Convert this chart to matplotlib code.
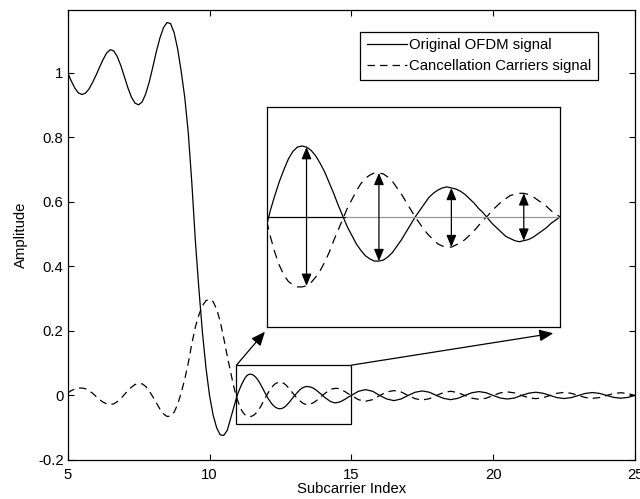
import numpy as np
import matplotlib
matplotlib.use("Agg")
from matplotlib import pyplot as plt
from matplotlib.patches import Rectangle

plt.rcParams['font.family'] = ['Liberation Sans', 'DejaVu Sans']
plt.rcParams['axes.unicode_minus'] = False

# subcarrier index grid: 0.125 steps, finer inside the zoomed window, coarse in the tail
x_a = np.arange(5, 10.75, 0.125)
x_b = np.arange(10.75, 15, 0.0625)
x_c = np.arange(15, 25.01, 0.25)

# values
ofdm_a = [
    1.000, 0.975, 0.953, 0.938, 0.933, 0.937, 0.950, 0.970,    # 5.0 - 5.875
    0.993, 1.018, 1.042, 1.062, 1.072, 1.068, 1.050, 1.022,    # 6.0 - 6.875
    0.988, 0.953, 0.924, 0.906, 0.901, 0.910, 0.935, 0.972,    # 7.0 - 7.875
    1.018, 1.066, 1.108, 1.140, 1.156, 1.153, 1.125, 1.075,    # 8.0 - 8.875
    1.005, 0.925, 0.815, 0.660, 0.480, 0.330, 0.195, 0.085,    # 9.0 - 9.875
    0.000, -0.060, -0.100, -0.122, -0.124, -0.108,             # 10.0 - 10.625
]
ofdm_b = [
    -0.070, -0.050, -0.030, -0.011, 0.006, 0.020, 0.033, 0.044,   # 10.75 - 11.1875
    0.054, 0.061, 0.065, 0.066, 0.065, 0.062, 0.057, 0.050,      # 11.25 - 11.6875
    0.042, 0.032, 0.022, 0.011, 0.001, -0.009, -0.017, -0.025,   # 11.75 - 12.1875
    -0.031, -0.036, -0.039, -0.041, -0.041, -0.040, -0.037, -0.033,  # 12.25
    -0.027, -0.021, -0.014, -0.007, 0.000, 0.006, 0.012, 0.018,  # 12.75
    0.022, 0.025, 0.027, 0.028, 0.027, 0.026, 0.024, 0.021,      # 13.25
    0.017, 0.013, 0.008, 0.004, -0.001, -0.006, -0.010, -0.014,  # 13.75
    -0.018, -0.020, -0.022, -0.023, -0.022, -0.021, -0.019, -0.016,  # 14.25
    -0.013, -0.010, -0.006, -0.003,                              # 14.75 - 14.9375
]
ofdm_c = [
    0.000, 0.013, 0.018, 0.013, 0.000, -0.011, -0.016, -0.011,  # 15.0 - 16.75
    0.000, 0.010, 0.014, 0.010, 0.000, -0.009, -0.013, -0.009,  # 17.0 - 18.75
    0.000, 0.0085, 0.012, 0.0085, 0.000, -0.008, -0.011, -0.008,  # 19.0 - 20.75
    0.000, 0.007, 0.010, 0.007, 0.000, -0.0067, -0.0095, -0.0067,  # 21.0 - 22.75
    0.000, 0.0064, 0.009, 0.0064, 0.000, -0.006, -0.0085, -0.006,  # 23.0 - 24.75
    0.000,                                                      # 25.0
]

cancel_a = [
    0.008, 0.015, 0.020, 0.023, 0.023, 0.021, 0.015, 0.007,    # 5.0 - 5.875
    -0.003, -0.013, -0.021, -0.026, -0.028, -0.026, -0.019, -0.009,  # 6.0
    0.003, 0.015, 0.026, 0.034, 0.037, 0.036, 0.028, 0.014,    # 7.0
    -0.004, -0.023, -0.042, -0.057, -0.065, -0.064, -0.052, -0.028,  # 8.0
    0.008, 0.050, 0.100, 0.160, 0.212, 0.250, 0.278, 0.294,    # 9.0
    0.298, 0.291, 0.268, 0.230, 0.178, 0.122,                  # 10.0 - 10.625
]
cancel_b = [
    0.070, 0.044, 0.020, 0.000, -0.018, -0.033, -0.045, -0.054,  # 10.75
    -0.060, -0.063, -0.065, -0.065, -0.064, -0.061, -0.056, -0.050,  # 11.25
    -0.042, -0.033, -0.022, -0.012, -0.002, 0.008, 0.016, 0.024,  # 11.75
    0.031, 0.036, 0.039, 0.041, 0.041, 0.040, 0.037, 0.033,      # 12.25
    0.027, 0.021, 0.014, 0.007, 0.000, -0.006, -0.012, -0.017,   # 12.75
    -0.021, -0.025, -0.027, -0.028, -0.028, -0.026, -0.024, -0.021,  # 13.25
    -0.017, -0.013, -0.008, -0.003, 0.001, 0.006, 0.010, 0.014,  # 13.75
    0.017, 0.020, 0.021, 0.022, 0.022, 0.021, 0.019, 0.016,      # 14.25
    0.013, 0.010, 0.006, 0.003,                                  # 14.75
]
cancel_c = [
    0.000, -0.013, -0.018, -0.013, 0.000, 0.011, 0.015, 0.011,  # 15.0 - 16.75
    0.000, -0.010, -0.014, -0.010, 0.000, 0.009, 0.013, 0.009,  # 17.0
    0.000, -0.0085, -0.012, -0.0085, 0.000, 0.008, 0.011, 0.008,  # 19.0
    0.000, -0.007, -0.010, -0.007, 0.000, 0.0067, 0.0095, 0.0067,  # 21.0
    0.000, -0.0064, -0.009, -0.0064, 0.000, 0.006, 0.0085, 0.006,  # 23.0
    0.000,
]

arrow_at = [11.5, 12.5, 13.5, 14.5]
zoom_x = (10.95, 15.0)
zoom_y = (-0.09, 0.094)

x = np.concatenate([x_a, x_b, x_c])
ofdm = np.array(ofdm_a + ofdm_b + ofdm_c)
cancel = np.array(cancel_a + cancel_b + cancel_c)

fs = 10.7
fig = plt.figure(figsize=(6.4, 4.99), dpi=100)
ax = fig.add_axes([0.1058, 0.0782, 0.8864, 0.9018])

ax.plot(x, ofdm, color='k', lw=0.9, label='Original OFDM signal')
ax.plot(x, cancel, color='k', lw=0.9, ls=(0, (6, 4)), label='Cancellation Carriers signal')

ax.set_xlim(5, 25)
ax.set_ylim(-0.2, 1.195)
ax.set_xticks([5, 10, 15, 20, 25])
ax.set_yticks([-0.2, 0, 0.2, 0.4, 0.6, 0.8, 1.0])
ax.set_yticklabels(['-0.2', '0', '0.2', '0.4', '0.6', '0.8', '1'])
ax.tick_params(direction='in', top=True, right=True, length=4, width=0.8, labelsize=fs, pad=3)
ax.tick_params(axis='x', pad=6)
for sp in ax.spines.values():
    sp.set_linewidth(0.9)
ax.set_xlabel('Subcarrier Index', fontsize=fs, labelpad=0)
ax.set_ylabel('Amplitude', fontsize=fs, labelpad=7)

leg = ax.legend(loc='upper right', bbox_to_anchor=(0.9354, 0.9518), borderaxespad=0,
                fancybox=False, framealpha=1, edgecolor='k', fontsize=fs,
                handlelength=2.7, handletextpad=0.15, labelspacing=0.45, borderpad=0.45)
leg.get_frame().set_linewidth(0.9)

# zoom box in main axes
ax.add_patch(Rectangle((zoom_x[0], zoom_y[0]), zoom_x[1] - zoom_x[0], zoom_y[1] - zoom_y[0],
                       fill=False, ec='k', lw=0.9))

# inset
ins = fig.add_axes([0.4167, 0.3453, 0.4583, 0.4397])
ins.plot(x, ofdm, color='k', lw=0.9)
ins.plot(x, cancel, color='k', lw=0.9, ls=(0, (7, 5)))
ins.axhline(0, xmin=0, xmax=0.27, color='k', lw=0.9)
ins.axhline(0, xmin=0.27, xmax=1, color='0.6', lw=0.9)
ins.set_xlim(*zoom_x)
ins.set_ylim(-0.102, 0.102)
ins.set_xticks([])
ins.set_yticks([])
for sp in ins.spines.values():
    sp.set_linewidth(0.9)

for xa in arrow_at:
    i = int(np.argmin(np.abs(x - xa)))
    ins.annotate('', xy=(x[i], ofdm[i]), xytext=(x[i], cancel[i]),
                 arrowprops=dict(arrowstyle='<|-|>,head_length=0.6,head_width=0.25',
                                 mutation_scale=12, color='k', lw=0.9,
                                 shrinkA=0, shrinkB=0))

# connector arrows from zoom box to inset
for (bx, by), (ix, iy) in [((zoom_x[0], zoom_y[1]), (-0.006, -0.023)),
                           ((zoom_x[1], zoom_y[1]), (0.977, -0.03))]:
    ax.annotate('', xy=(ix, iy), xycoords=ins.transAxes, xytext=(bx, by), textcoords='data',
                arrowprops=dict(arrowstyle='-|>,head_length=0.7,head_width=0.3',
                                mutation_scale=12, color='k', lw=0.9,
                                shrinkA=0, shrinkB=0))

fig.savefig('out.png', dpi=100)
